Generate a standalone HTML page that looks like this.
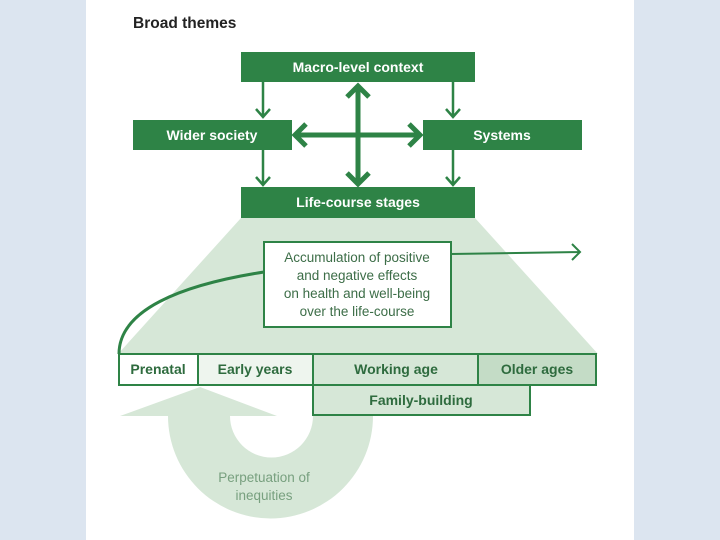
<html><head><style>body{margin:0;width:720px;height:540px;background:#dce5f0;overflow:hidden}</style></head><body>
<svg width="720" height="540" style="position:absolute;left:0;top:0" font-family="Liberation Sans, sans-serif">
<rect x="86" y="0" width="548" height="540" fill="#fff"/>
<text x="133" y="28" font-size="15.5" font-weight="bold" fill="#222">Broad themes</text>
<polygon points="241,218 475,218 598,354 118,354" fill="#d6e7d7"/>
<path d="M120,416 L200,387 L277,416 L230,416 A41,41 0 0 0 313,416 L373,416 A102,102 0 0 1 168,416 Z" fill="#d6e7d7"/>
<g fill="#2e8346">
<rect x="241" y="52" width="234" height="30"/>
<rect x="133" y="120" width="159" height="30"/>
<rect x="423" y="120" width="159" height="30"/>
<rect x="241" y="187" width="234" height="31"/>
</g>
<g stroke="#2e8346" stroke-width="2.5" fill="none">
<path d="M263,82V117M256,109l7,8 7,-8"/><path d="M453,82V117M446,109l7,8 7,-8"/>
<path d="M263,150V185M256,177l7,8 7,-8"/><path d="M453,150V185M446,177l7,8 7,-8"/>
</g>
<g stroke="#2e8346" stroke-width="5" fill="none">
<path d="M358,86V184M347,97l11,-11 11,11M347,173l11,11 11,-11"/>
<path d="M295,135H420M306,124l-11,11 11,11M409,124l11,11 -11,11"/>
</g>
<g font-size="14" font-weight="bold" fill="#fff" text-anchor="middle">
<text x="358" y="72">Macro-level context</text>
<text x="212" y="140">Wider society</text>
<text x="502" y="140">Systems</text>
<text x="358" y="207">Life-course stages</text>
</g>
<path d="M119,354 C119,310 180,285 264,272" stroke="#2e8346" stroke-width="3" fill="none"/>
<path d="M451,254 L580,252M572,244l8,8 -8,8" stroke="#2e8346" stroke-width="2" fill="none"/>
<rect x="264" y="242" width="187" height="85" fill="#fff" stroke="#2e8346" stroke-width="2"/>
<g font-size="13.5" fill="#3c6d47" text-anchor="middle">
<text x="357" y="262">Accumulation of positive</text>
<text x="357" y="280">and negative effects</text>
<text x="357" y="298">on health and well-being</text>
<text x="357" y="316">over the life-course</text>
</g>
<g stroke="#2e8346" stroke-width="2">
<rect x="119" y="354" width="79" height="31" fill="#fff"/>
<rect x="198" y="354" width="115" height="31" fill="#eef5ee"/>
<rect x="313" y="354" width="165" height="31" fill="#d6e7d7"/>
<rect x="478" y="354" width="118" height="31" fill="#c4dcc6"/>
<rect x="313" y="385" width="217" height="30" fill="#d6e7d7"/>
</g>
<g font-size="14" font-weight="bold" fill="#2e6b3e" text-anchor="middle">
<text x="158" y="374">Prenatal</text>
<text x="255" y="374">Early years</text>
<text x="396" y="374">Working age</text>
<text x="537" y="374">Older ages</text>
<text x="421" y="405">Family-building</text>
</g>
<g font-size="13.5" fill="#78a07f" text-anchor="middle">
<text x="264" y="482">Perpetuation of</text>
<text x="264" y="500">inequities</text>
</g>
</svg>
</body></html>
